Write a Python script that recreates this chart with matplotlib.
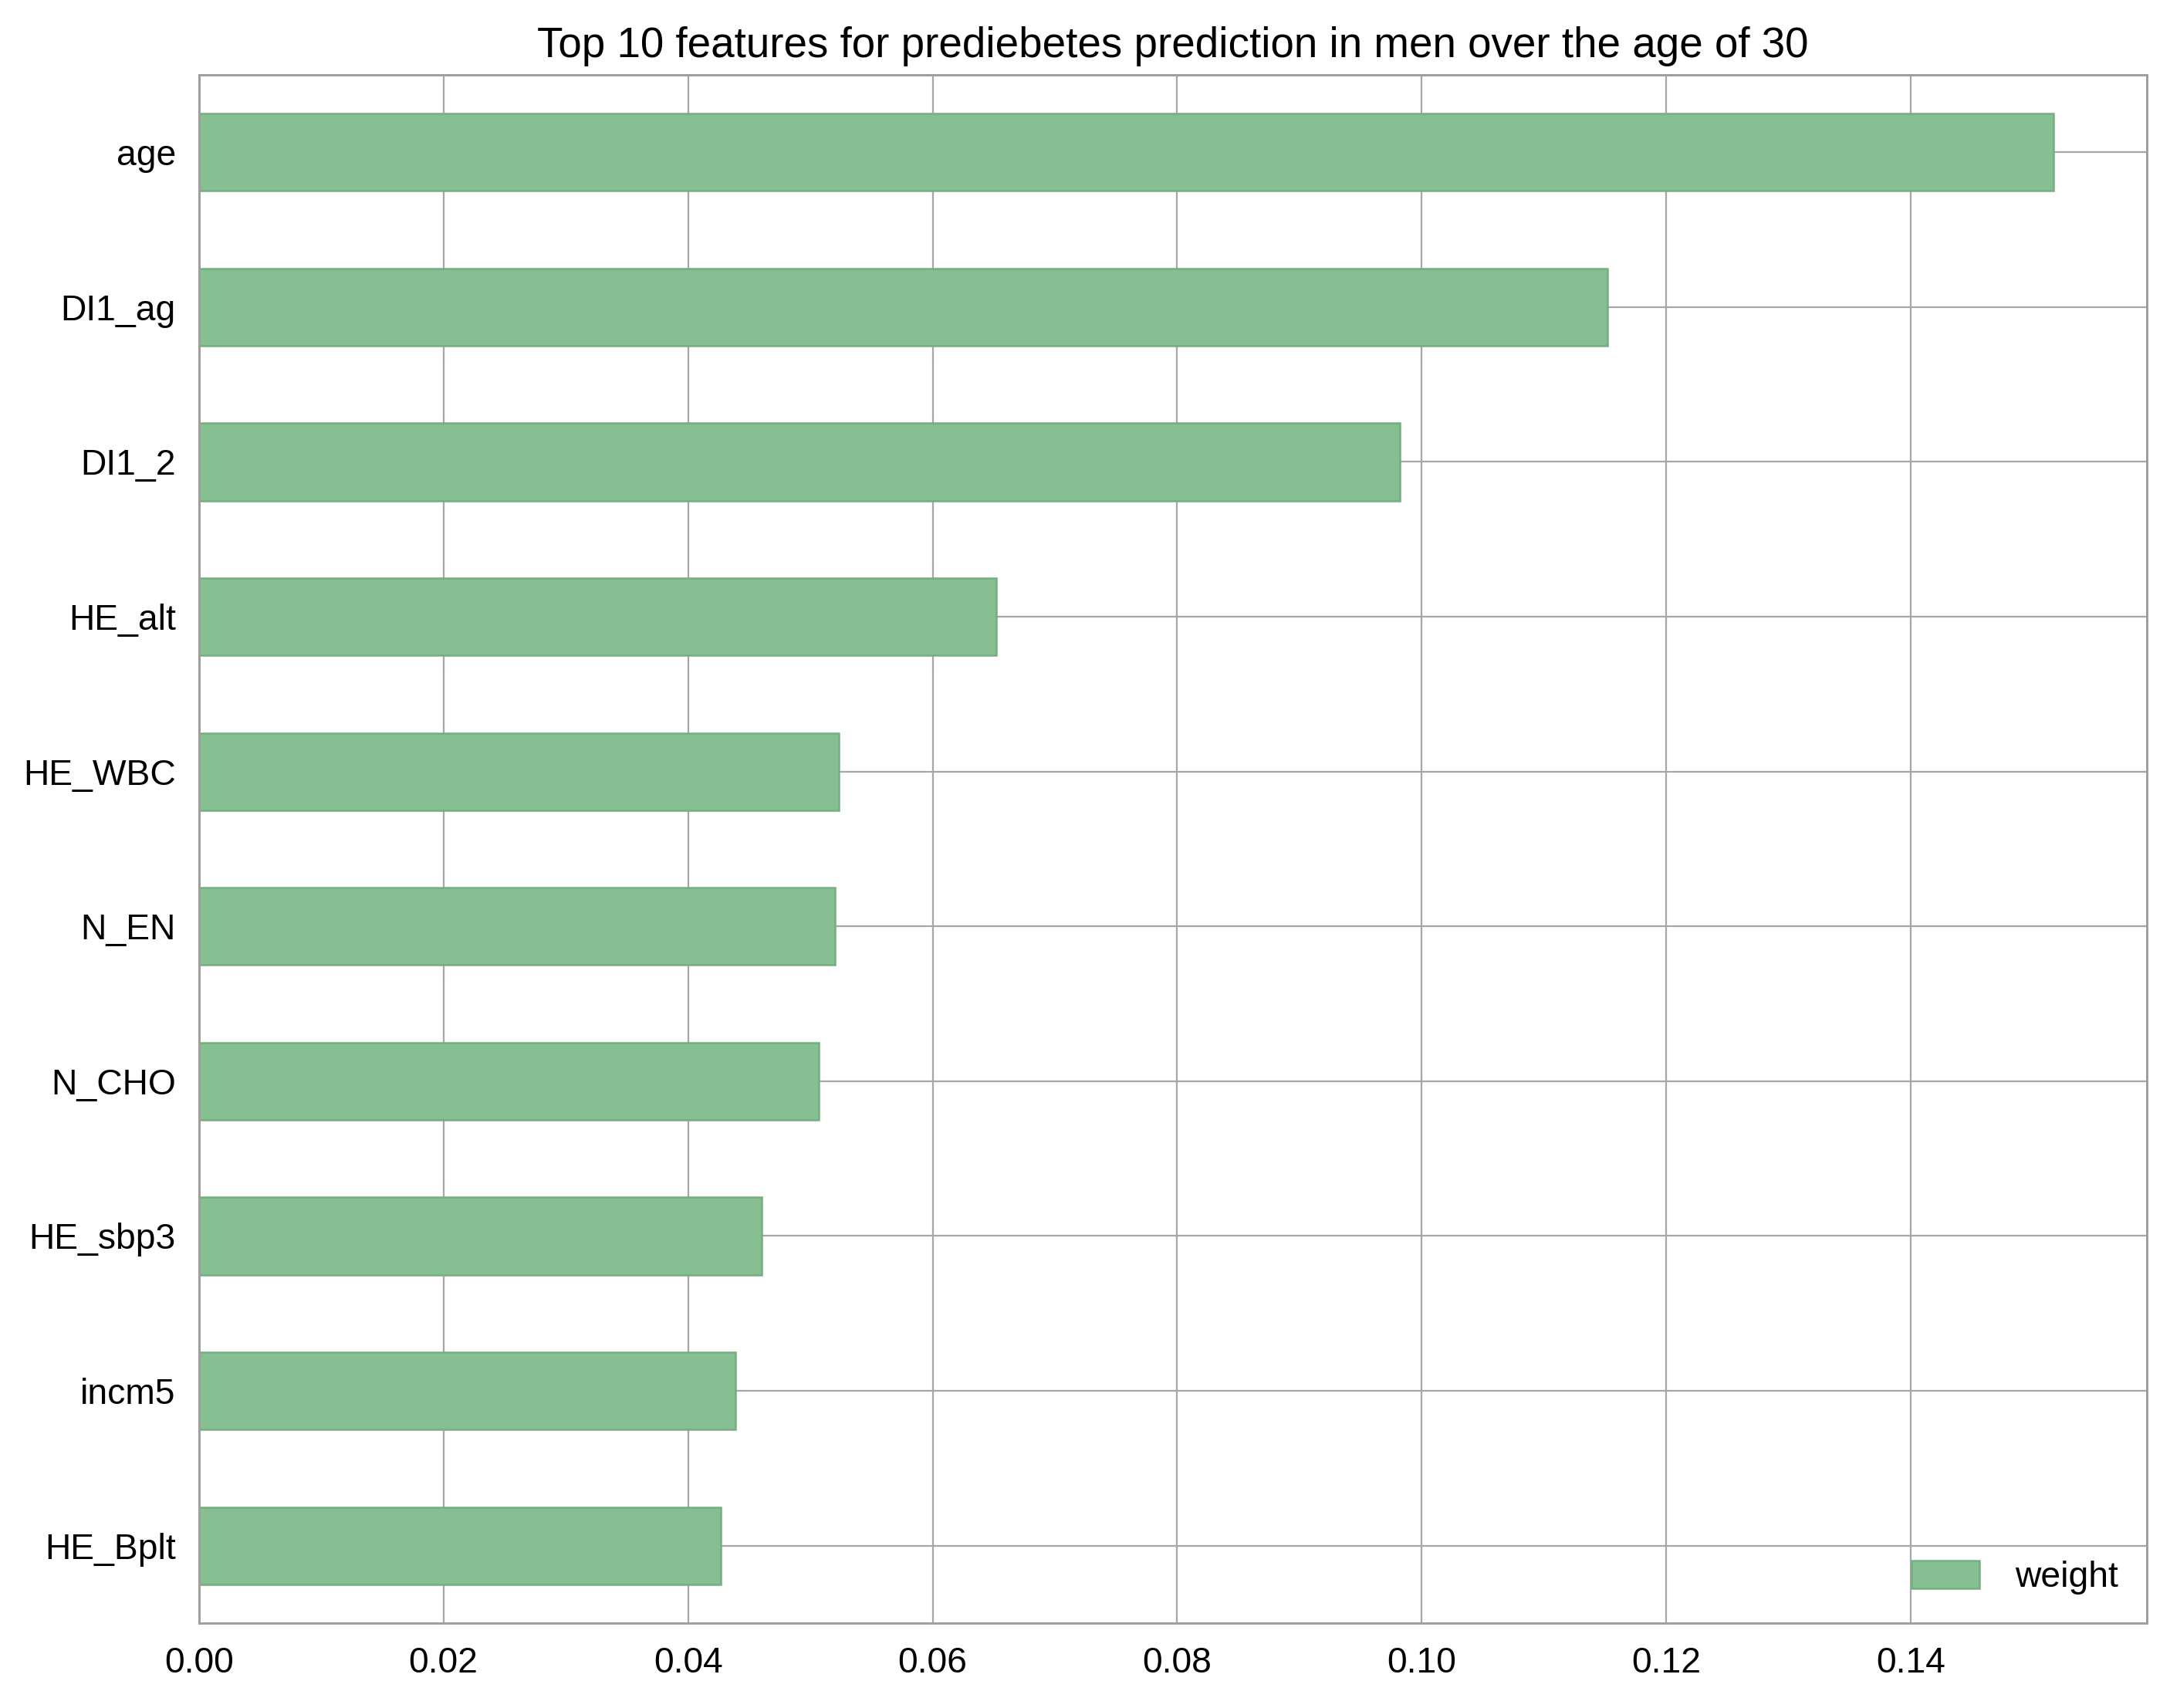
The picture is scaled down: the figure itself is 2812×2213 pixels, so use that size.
import matplotlib
matplotlib.use("Agg")
import matplotlib.pyplot as plt

features = ["age", "DI1_ag", "DI1_2", "HE_alt", "HE_WBC", "N_EN", "N_CHO",
            "HE_sbp3", "incm5", "HE_Bplt"]
weights = [0.1517, 0.1152, 0.0982, 0.0652, 0.0523, 0.0520, 0.0507,
           0.0460, 0.0439, 0.0427]
xticks = [0.00, 0.02, 0.04, 0.06, 0.08, 0.10, 0.12, 0.14]
title = "Top 10 features for prediebetes prediction in men over the age of 30"

plt.rcParams['font.family'] = ['Liberation Sans', 'DejaVu Sans']

fig = plt.figure(figsize=(2812 / 180, 2213 / 180), dpi=180)
ax = fig.add_axes([0.0917, 0.0497, 0.8975, 0.9065])

# plot in reverse so the largest is on top
pos = list(range(len(features)))[::-1]
ax.barh(pos, weights, height=0.5, color="#86BF91", edgecolor="#74AF80",
        linewidth=1.0, label="weight", zorder=2)

ax.set_ylim(-0.5, len(features) - 0.5)
ax.set_xlim(0, max(weights) * 1.05)
ax.set_yticks(pos)
ax.set_yticklabels(features)
ax.set_xticks(xticks)
ax.set_xticklabels([f"{t:.2f}" for t in xticks])

ax.grid(True, color="#aba6a6", linewidth=0.9, zorder=0)
ax.set_axisbelow(True)
for s in ax.spines.values():
    s.set_color("#a29e9e")
    s.set_linewidth(1.2)
ax.tick_params(axis="both", length=0, labelsize=18.5, pad=12)
ax.set_title(title, fontsize=21.9, pad=9)

leg = ax.legend(loc="lower right", frameon=False, fontsize=18.5,
                handlelength=1.9, handleheight=0.8, handletextpad=1.0,
                borderaxespad=0.4)

fig.savefig("out.png", dpi=180, facecolor="white")
